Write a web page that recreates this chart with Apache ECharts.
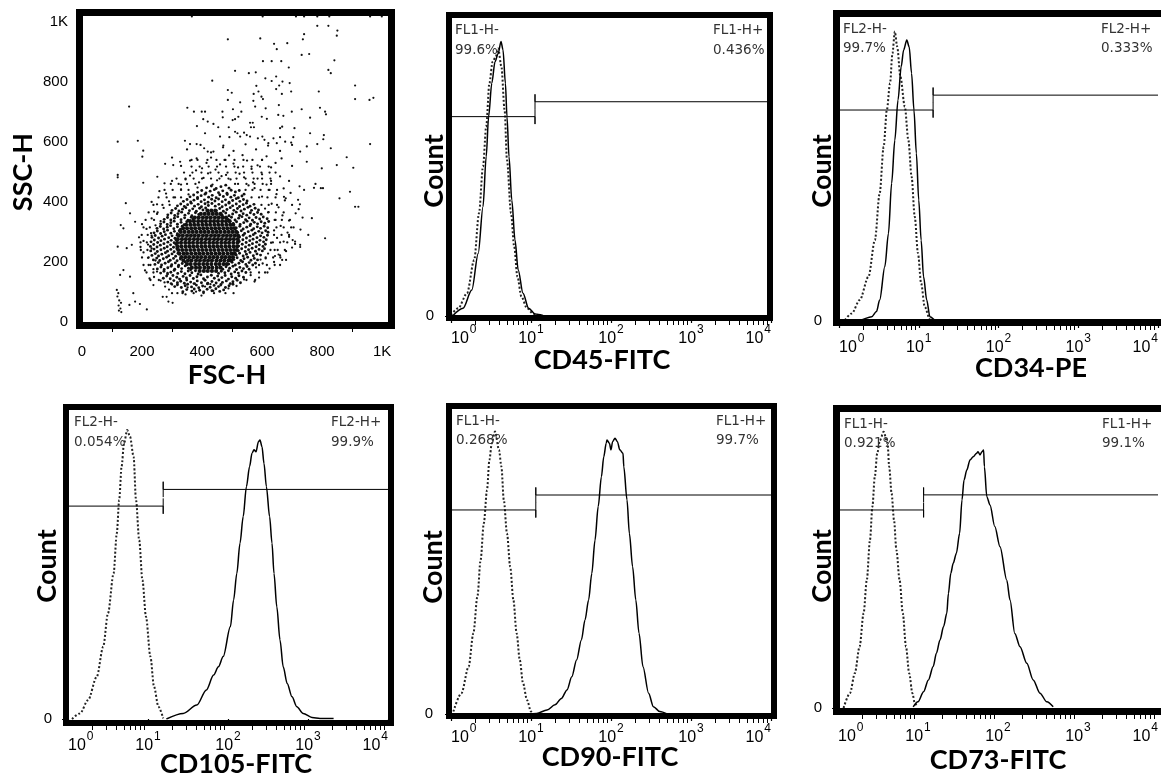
<!DOCTYPE html>
<html>
<head>
<meta charset="utf-8">
<script src="https://cdn.jsdelivr.net/npm/echarts@6.0.0/dist/echarts.min.js"></script>
<style>
  html, body { margin: 0; padding: 0; background: #fff; }
  #chart { width: 1161px; height: 778px; }
</style>
</head>
<body>
<div id="chart"></div>
<script>
// ---- scatter FSC-H / SSC-H ----
const fscTicks = [0, 200, 400, 600, 800, 1000];
const fscMinor = [100, 300, 500, 700, 900];
const sscTicks = [0, 200, 400, 600, 800, 1000];

// sparse events (upper tail, edges)
const sparsePts = [
  [366,1018],[602,1018],[713,1018],[740,1018],[784,1018],[824,1018],[960,1018],[999,1018],
  [784,987],[821,987],[851,971],[849,954],[740,959],[736,942],[486,942],[594,945],[640,927],[649,909],[684,929],
  [732,890],[757,893],[841,872],[603,869],[632,869],[664,869],[689,848],[821,840],[829,829],[510,837],[556,829],
  [579,832],[611,812],[632,803],[647,818],[657,788],[668,801],[692,796],[434,804],[910,788],[581,787],[486,773],
  [499,764],[572,760],[588,768],[598,751],[603,743],[647,776],[666,760],[697,768],[789,768],[910,743],[958,740],
  [971,747],[157,718],[527,732],[486,740],[571,737],[577,718],[656,723],[351,714],[373,701],[399,701],[410,701],
  [468,701],[503,709],[531,701],[612,712],[654,690],[671,687],[699,701],[732,709],[793,714],[810,701],[813,692],
  [760,681],[383,653],[404,676],[419,668],[438,660],[454,649],[469,682],[489,649],[502,673],[510,676],[521,684],
  [560,664],[569,664],[563,649],[573,649],[599,684],[616,677],[660,646],[667,651],[708,646],[760,629],[806,623],
  [410,629],[460,618],[471,588],[491,616],[510,634],[518,629],[527,618],[540,631],[549,623],[560,618],[586,612],
  [601,618],[608,607],[621,596],[638,612],[649,596],[660,616],[677,601],[697,598],[704,616],[727,568],[749,585],
  [784,593],[804,609],[829,579],[882,549],[960,593],[119,601],[186,604],[204,571],[201,551],[343,604],[360,593],
  [382,593],[407,579],[419,568],[438,568],[277,527],[304,523],[327,534],[360,538],[382,545],[749,534],[799,512],
  [849,523],[119,490],[119,482],[204,464],[251,484],[146,396],[160,362],[177,334],[129,323],[138,312],[119,251],
  [149,246],[166,257],[138,173],[127,157],[160,151],[238,123],[277,118],[116,107],[121,96],[118,85],[124,72],
  [130,64],[122,55],[128,45],[123,38],[131,33],[171,96],[177,68],[158,57],[193,60],[216,42],[269,84],[282,84],
  [288,68],[302,64],[904,514],[893,434],[858,412],[910,384],[921,384],[810,279],[766,346],[754,290],[727,257],
  [727,250],[702,273],[710,268],[796,446],[803,446],[773,447],[778,460],[740,440],[725,452],[720,407],[726,392],
  [673,417],[679,412],[667,207],[680,207],[643,220],[655,225]
];
// outer halo of the main population
const haloPts = [
  [290,108],[318,96],[352,115],[380,101],[410,118],[438,104],[462,122],[488,112],[300,125],[345,92],[398,88],
  [428,126],[515,120],[372,128],[240,150],[262,138],[285,164],[540,142],[562,156],[590,148],[610,165],[250,168],
  [225,145],[275,132],[575,135],[222,190],[238,176],[245,205],[580,182],[602,195],[625,178],[640,200],[210,172],
  [660,190],[595,208],[205,232],[220,214],[232,245],[620,228],[642,240],[660,222],[680,236],[195,250],[700,248],
  [612,212],[205,270],[220,258],[232,288],[630,264],[650,280],[672,268],[690,284],[710,260],[190,282],[215,310],
  [230,296],[245,322],[640,305],[662,320],[685,298],[705,315],[728,308],[200,326],[232,345],[250,360],[262,336],
  [645,340],[668,355],[690,338],[712,362],[735,348],[240,368],[622,366],[250,392],[272,380],[290,402],[610,378],
  [632,394],[655,382],[676,405],[700,390],[722,376],[232,400],[280,428],[305,415],[330,442],[355,425],[600,418],
  [625,440],[648,426],[672,445],[695,430],[258,436],[385,448],[575,446],[300,470],[330,458],[360,488],[390,465],
  [420,495],[450,472],[480,490],[510,460],[540,482],[570,465],[600,492],[630,470],[660,485],[275,462],[345,475],
  [405,480],[435,458],[465,486],[495,475],[525,494],[555,455],[585,478],[615,458],[645,498],[690,470],[330,520],
  [365,540],[400,512],[430,548],[460,525],[490,555],[520,515],[550,538],[585,522],[615,552],[645,530],[380,505],
  [415,530],[445,508],[475,540],[505,528],[535,556],[565,510],[600,540],[630,515],[665,545],[700,520],[300,548],
  [350,575],[395,590],[430,565],[470,582],[505,570],[545,592],[580,575],[620,588],[660,570],[700,590]
];
// medium-density band around the dense zone: [SSC, FSC values]
const outerRows = [
  [96, [300, 335, 372, 405, 440, 478, 505]],
  [140, [228, 256, 548, 577]],
  [165, [215, 238, 562, 590, 618]],
  [190, [205, 228, 590, 616, 642]],
  [215, [200, 222, 612, 637, 661]],
  [240, [196, 218, 628, 652, 676]],
  [265, [195, 216, 636, 660, 684]],
  [290, [199, 219, 640, 665, 690]],
  [315, [205, 226, 648, 672, 697]],
  [340, [212, 240, 642, 666, 693]],
  [365, [222, 252, 620, 646, 672]],
  [390, [238, 268, 292, 598, 622, 650]],
  [415, [255, 282, 310, 330, 565, 590, 618, 645]],
  [440, [275, 302, 330, 355, 545, 568, 595, 622, 650]],
  [460, [296, 322, 350, 378, 520, 548, 575, 602, 630]],
  [478, [315, 345, 372, 400, 430, 458, 488, 515, 545, 572, 600, 628]],
  [498, [340, 368, 398, 428, 455, 485, 512, 540, 568, 598, 625]],
  [518, [365, 392, 422, 450, 480, 508, 537, 565, 593, 622]],
  [540, [385, 418, 448, 478, 508, 538, 568, 600]]
];
// dense zone around the core
const innerPts = [
  [336,101],[349,108],[366,103],[374,110],[392,106],[405,100],[417,109],[433,104],[446,111],[459,102],[472,107],
  [309,118],[318,124],[331,115],[344,121],[352,126],[365,117],[381,123],[389,114],[402,120],[418,127],[427,116],
  [440,122],[455,118],[463,125],[478,115],[490,121],[503,126],
  [286,133],[297,128],[306,138],[318,131],[329,136],[341,129],[349,140],[362,133],[375,128],[384,137],[398,131],
  [410,139],[419,129],[433,135],[447,130],[456,140],[468,132],[481,137],[494,128],[503,134],[517,139],[528,131],
  [271,146],[282,153],[294,144],[303,155],[316,149],[325,143],[337,152],[348,147],[360,155],[371,145],[383,151],
  [396,157],[405,144],[418,150],[431,156],[441,146],[452,153],[466,148],[477,155],[488,143],[499,151],[512,146],
  [523,154],[538,149],
  [262,163],[273,169],[285,160],[296,166],[307,172],[319,162],[331,168],[343,161],[354,170],[366,164],[378,171],
  [387,160],[455,162],[464,169],[476,164],[488,171],[497,160],[509,167],[521,163],[533,170],[546,165],
  [251,177],[263,183],[274,175],[286,181],[297,186],[309,176],[321,184],[332,178],[344,187],[355,179],[362,174],
  [469,176],[480,184],[492,179],[503,186],[515,175],[526,182],[538,178],[550,185],[557,176],
  [243,192],[254,198],[265,190],[277,196],[288,201],[299,191],[311,197],[322,189],[334,195],[344,200],[489,193],
  [500,199],[511,190],[523,196],[535,201],[546,192],[557,198],[569,190],[578,196],
  [238,207],[249,213],[259,205],[271,211],[282,216],[294,206],[305,212],[317,204],[328,210],[506,208],[517,214],
  [529,205],[540,211],[552,216],[563,206],[574,212],[585,207],
  [233,222],[244,228],[255,220],[266,226],[278,231],[289,221],[300,227],[312,219],[320,229],[514,223],[525,229],
  [537,220],[548,226],[560,232],[571,221],[583,227],[595,223],
  [229,237],[240,243],[251,235],[263,241],[274,246],[285,236],[296,242],[307,234],[316,244],[521,238],[532,244],
  [544,235],[555,241],[567,246],[578,236],[590,242],[601,237],[608,244],
  [228,252],[239,258],[250,250],[261,256],[273,261],[284,251],[295,257],[305,249],[313,259],[522,253],[534,259],
  [545,250],[557,256],[568,261],[580,251],[591,257],[603,252],[611,259],
  [230,267],[241,273],[252,265],[263,271],[275,276],[286,266],[297,272],[307,264],[313,274],[524,268],[536,274],
  [547,265],[559,271],[570,276],[582,266],[593,272],[605,267],[614,274],
  [233,282],[244,288],[255,280],[267,286],[278,291],[289,281],[300,287],[310,279],[317,289],[525,283],[537,289],
  [548,280],[560,286],[571,291],[583,281],[595,287],[606,282],[618,289],
  [240,297],[251,303],[262,295],[274,301],[285,306],[296,296],[308,302],[318,294],[324,304],[519,298],[531,304],
  [542,295],[554,301],[566,306],[577,296],[589,302],[600,297],[612,304],[620,299],
  [250,312],[261,318],[272,310],[284,316],[295,321],[306,311],[318,317],[328,309],[334,319],[514,313],[526,319],
  [537,310],[549,316],[560,321],[572,311],[584,317],[595,312],[607,319],[619,314],
  [262,327],[273,333],[284,325],[296,331],[307,336],[318,326],[330,332],[340,324],[349,334],[504,328],[515,334],
  [527,325],[539,331],[550,336],[562,326],[574,332],[585,327],[597,334],[609,329],[622,335],
  [274,342],[285,348],[296,340],[308,346],[319,351],[330,341],[342,347],[353,339],[364,349],[370,343],[487,342],
  [498,349],[510,340],[522,346],[533,351],[545,341],[557,347],[568,339],[580,348],[592,343],[604,350],[617,344],
  [286,357],[297,363],[309,355],[320,361],[332,366],[343,356],[355,362],[366,354],[378,364],[389,358],[467,356],
  [479,363],[490,354],[502,360],[514,366],[525,355],[537,361],[549,356],[561,364],[573,358],[585,365],[597,359],
  [300,372],[312,378],[323,370],[335,376],[346,381],[358,371],[369,377],[381,369],[392,379],[403,373],[412,380],
  [448,371],[459,378],[471,369],[483,375],[494,381],[506,372],[518,378],[530,370],[541,376],[553,382],[565,372],
  [577,379],[588,373],
  [318,387],[329,393],[341,385],[352,391],[364,396],[375,386],[387,392],[398,384],[410,394],[421,388],[433,395],
  [444,386],[456,392],[467,384],[479,390],[490,396],[502,387],[514,393],[525,385],[537,391],[548,396],[560,386],
  [573,392],
  [338,402],[350,408],[362,400],[373,406],[385,411],[397,401],[408,407],[420,399],[432,409],[443,403],[455,410],
  [467,401],[478,407],[490,399],[502,405],[514,411],[526,402],[538,408],[550,403],
  [360,417],[372,423],[385,415],[397,421],[410,426],[422,416],[434,422],[447,414],[459,424],[471,418],[484,425],
  [496,416],[508,422],[521,414],[533,420],[540,426],
  [385,432],[399,438],[413,430],[427,436],[441,441],[455,431],[469,437],[483,429],[497,439],[511,433],[524,438],
  [415,447],[431,453],[447,445],[463,451],[479,456],[490,446]
];
// saturated core: [SSC, FSC values]
const coreRows = [
  [170, [392, 406, 419, 433, 447]],
  [181, [366, 380, 393, 408, 421, 434, 449, 462]],
  [193, [350, 362, 377, 390, 404, 417, 431, 446, 458, 472, 483]],
  [205, [338, 353, 365, 380, 393, 407, 420, 433, 448, 461, 474, 488, 497]],
  [216, [331, 344, 357, 371, 384, 397, 411, 425, 438, 451, 466, 478, 491, 503]],
  [228, [324, 338, 350, 364, 378, 391, 404, 418, 431, 445, 458, 471, 485, 498, 509]],
  [240, [321, 334, 347, 361, 374, 388, 401, 414, 428, 441, 455, 468, 481, 494, 507, 516]],
  [252, [318, 331, 345, 358, 371, 384, 398, 411, 425, 438, 451, 464, 478, 491, 505, 517]],
  [264, [317, 330, 344, 357, 370, 384, 397, 410, 424, 437, 450, 464, 477, 490, 504, 518]],
  [276, [319, 333, 346, 359, 373, 386, 399, 413, 426, 440, 453, 466, 480, 493, 506, 519]],
  [288, [323, 336, 350, 363, 376, 389, 403, 416, 430, 443, 456, 470, 483, 496, 509, 520]],
  [300, [329, 342, 356, 369, 382, 396, 409, 422, 436, 449, 462, 476, 489, 502, 514]],
  [312, [337, 350, 364, 377, 391, 404, 417, 431, 444, 457, 471, 484, 497, 509]],
  [324, [347, 361, 374, 387, 401, 414, 427, 441, 454, 467, 481, 494, 504]],
  [336, [360, 373, 387, 400, 413, 427, 440, 453, 467, 480, 492]],
  [348, [376, 389, 403, 416, 429, 443, 456, 469, 480]],
  [360, [396, 409, 422, 436, 449, 462]],
  [371, [418, 431, 444]]
];

// ---- histograms: [log10 intensity, % of max count] ----
const decades = [0, 1, 2, 3, 4];
const minorSteps = [2, 3, 4, 5, 6, 7, 8, 9];

const cd45Iso = [[0.0,0.3],[0.09,2.6],[0.20,7.6],[0.29,18.8],[0.35,34.5],[0.40,50.1],[0.44,63.5],[0.48,78.1],[0.52,85.3],[0.56,87],[0.59,89.8],[0.63,83.7],[0.67,69.1],[0.70,52.3],[0.75,34.5],[0.79,23.3],[0.83,13.2],[0.88,6.5],[0.95,2.6],[1.03,0.7],[1.11,0.2]];
const cd45Stain = [[0.03,0.3],[0.15,2.6],[0.26,8.7],[0.34,21],[0.40,36.7],[0.44,53.5],[0.47,66.9],[0.51,78.1],[0.55,85.3],[0.59,88.1],[0.625,92.1],[0.65,89.3],[0.68,78.1],[0.70,66.9],[0.725,53.5],[0.76,38.9],[0.80,25.5],[0.84,15.4],[0.90,7.6],[0.97,2.6],[1.05,0.7],[1.15,0.2]];
const cd45Gate = [1.05, 66.9, 71.9];

const cd34Iso = [[0.075,0.3],[0.16,2.5],[0.26,6.9],[0.37,14.6],[0.45,26.6],[0.51,42],[0.56,57.3],[0.60,69.4],[0.64,78.2],[0.67,88],[0.70,95.2],[0.73,90.2],[0.77,80.4],[0.825,70.5],[0.87,59.5],[0.91,47.5],[0.95,34.3],[0.99,22.3],[1.03,12.4],[1.075,4.7],[1.14,0.5],[1.22,0]];
const cd34Stain = [[0.05,0],[0.26,0.3],[0.41,1.4],[0.47,3.1],[0.51,6.9],[0.575,17.9],[0.62,28.8],[0.66,45.3],[0.70,59.5],[0.74,72.7],[0.78,83.7],[0.81,89.1],[0.85,92.4],[0.88,90.2],[0.91,81.5],[0.94,69.4],[0.97,55.2],[1.00,39.8],[1.03,26.6],[1.06,14.6],[1.10,6.9],[1.14,1.4],[1.22,0],[1.28,0]];
const cd34Gate = [1.18, 69.4, 74.3];

const cd105Iso = [[0.05,0],[0.15,1.8],[0.25,6.1],[0.36,13.7],[0.44,23.4],[0.50,34.2],[0.57,47.1],[0.61,60.1],[0.64,70.9],[0.67,81.7],[0.70,89.2],[0.74,93.5],[0.775,91.4],[0.82,84.9],[0.85,70.9],[0.89,57.9],[0.93,45],[0.975,33.1],[1.03,20.2],[1.075,10.5],[1.13,4.0],[1.19,0.2]];
const cd105Stain = [[1.23,0],[1.44,1.8],[1.61,4.5],[1.73,9.4],[1.82,14.2],[1.88,16.9],[1.94,20.2],[2.03,29.9],[2.07,38.5],[2.11,47.1],[2.15,56.9],[2.19,65.5],[2.23,75.2],[2.27,81.7],[2.30,86],[2.325,87.1],[2.35,86.5],[2.38,89.7],[2.40,90.3],[2.425,88.1],[2.45,82.7],[2.48,75.2],[2.52,65.5],[2.55,56.9],[2.575,47.1],[2.61,36.3],[2.65,25.6],[2.69,16.9],[2.74,11.5],[2.80,7.2],[2.86,4.0],[2.94,1.8],[3.05,0.5],[3.15,0.2],[3.32,0.2]];
const cd105Gate = [1.19, 68.9, 74.3];

const cd90Iso = [[0.03,0.8],[0.13,6.8],[0.22,15.5],[0.28,26.5],[0.33,38.5],[0.37,50.5],[0.41,62.5],[0.45,73.4],[0.48,83.3],[0.51,88.8],[0.55,92.6],[0.60,86.6],[0.63,81.1],[0.66,70.2],[0.70,59.2],[0.74,48.3],[0.78,37.4],[0.82,26.5],[0.86,17.7],[0.90,10.1],[0.95,4.6],[1.00,0.8],[1.03,0]];
const cd90Stain = [[0.95,0],[1.07,0.2],[1.20,1.3],[1.30,3.0],[1.38,5.1],[1.45,7.9],[1.51,12.2],[1.57,17.7],[1.63,24.3],[1.675,30.8],[1.72,37.4],[1.76,46.1],[1.80,57],[1.84,68],[1.88,77.8],[1.91,84.4],[1.94,88.8],[1.95,89.8],[1.98,88.8],[2.00,86.6],[2.02,89.3],[2.05,90.4],[2.08,89.3],[2.11,86.6],[2.15,85.5],[2.16,81.1],[2.20,70.2],[2.23,59.2],[2.27,48.3],[2.31,37.4],[2.35,26.5],[2.40,15.5],[2.47,6.8],[2.53,2.4],[2.61,0.8],[2.70,0]];
const cd90Gate = [1.06, 66.9, 71.8];

const cd73Iso = [[0.07,0],[0.15,5.0],[0.21,11.7],[0.27,20.7],[0.32,32],[0.36,43.2],[0.40,56.8],[0.43,68],[0.46,78.1],[0.49,86],[0.525,90.5],[0.57,93.3],[0.62,89.4],[0.64,81.5],[0.67,72.5],[0.70,63.5],[0.73,53.4],[0.77,43.2],[0.81,32],[0.85,20.7],[0.89,11.7],[0.93,5.0],[0.96,1.6],[0.99,0.4]];
const cd73Stain = [[0.94,0.4],[1.00,2.1],[1.07,5.5],[1.13,9.5],[1.19,14],[1.23,18.5],[1.275,23],[1.32,27.5],[1.36,32],[1.38,38.7],[1.41,45.5],[1.44,48.9],[1.48,52.3],[1.52,59],[1.55,70.3],[1.575,77],[1.61,80.4],[1.65,83.8],[1.69,84.9],[1.73,86],[1.75,86.6],[1.775,85.5],[1.80,86.6],[1.82,87.2],[1.83,81.5],[1.86,71.4],[1.90,68.6],[1.96,61.3],[2.025,54.5],[2.11,43.2],[2.15,36.5],[2.21,25.2],[2.275,20.7],[2.36,15.1],[2.44,9.5],[2.525,5.0],[2.61,2.1],[2.69,0.4]];
const cd73Gate = [1.07, 66.9, 72];

// layout of each histogram panel (pixels)
const panels = [
  { name: 'CD45-FITC', iso: cd45Iso, stain: cd45Stain, gate: cd45Gate,
    neg: ['FL1-H-', '99.6%'], pos: ['FL1-H+', '0.436%'],
    grid: [451, 18, 320, 298], frame: [452, 18, 767, 315, 6], xOff: 5, yOff: 5, labM: 3, yLabM: 12,
    negXY: [455, 30, 50], posX: 713, countXY: [434, 171], nameXY: [602, 360] },
  { name: 'CD34-PE', iso: cd34Iso, stain: cd34Stain, gate: cd34Gate,
    neg: ['FL2-H-', '99.7%'], pos: ['FL2-H+', '0.333%'],
    grid: [839, 17, 320, 304], frame: [840, 17, 1168, 319, 7], xOff: 5, yOff: 6, labM: 7, yLabM: 11,
    negXY: [843, 29, 48], posX: 1101, countXY: [822, 171], nameXY: [1031, 368] },
  { name: 'CD105-FITC', iso: cd105Iso, stain: cd105Stain, gate: cd105Gate,
    neg: ['FL2-H-', '0.054%'], pos: ['FL2-H+', '99.9%'],
    grid: [68, 410, 320, 309], frame: [69, 410, 388, 720, 6], xOff: 7, yOff: 5, labM: 5, yLabM: 11,
    negXY: [74, 422, 442], posX: 331, countXY: [47, 566], nameXY: [236, 764] },
  { name: 'CD90-FITC', iso: cd90Iso, stain: cd90Stain, gate: cd90Gate,
    neg: ['FL1-H-', '0.268%'], pos: ['FL1-H+', '99.7%'],
    grid: [451, 409, 320, 305], frame: [452, 409, 771, 713, 6], xOff: 5, yOff: 5, labM: 4, yLabM: 13,
    negXY: [456, 421, 440], posX: 716, countXY: [433, 567], nameXY: [610, 757] },
  { name: 'CD73-FITC', iso: cd73Iso, stain: cd73Stain, gate: cd73Gate,
    neg: ['FL1-H-', '0.921%'], pos: ['FL1-H+', '99.1%'],
    grid: [838, 412, 320, 296], frame: [840, 412, 1168, 708, 7], xOff: 7, yOff: 5, labM: 7, yLabM: 11,
    negXY: [844, 424, 443], posX: 1102, countXY: [822, 566], nameXY: [998, 760] }
];

const grids = [];
const xAxes = [];
const yAxes = [];
const series = [];
const graphics = [];

const tickFont = 'Liberation Sans';
const nameFont = 'Lato';

function rowsToPoints(rows) {
  const pts = [];
  rows.forEach(([ssc, list]) => list.forEach(fsc => pts.push([fsc, ssc])));
  return pts;
}
function addFrame(f) {
  const [l, t, r, b, w] = f;
  graphics.push({
    type: 'rect', z: 100, silent: true,
    shape: { x: l - w / 2, y: t - w / 2, width: r - l + w, height: b - t + w },
    style: { fill: 'none', stroke: '#000', lineWidth: w }
  });
}
function addName(txt, x, y, rotate) {
  graphics.push({
    type: 'text', z: 100, silent: true, x: x, y: y, rotation: rotate ? Math.PI / 2 : 0,
    style: { text: txt, fill: '#000', font: 'bold 27px ' + nameFont, align: 'center', verticalAlign: 'middle' }
  });
}
function addSmall(txt, x, y) {
  graphics.push({
    type: 'text', z: 100, silent: true, x: x, y: y,
    style: { text: txt, fill: '#333', font: '13.5px "DejaVu Sans"', align: 'left', verticalAlign: 'middle' }
  });
}

// ---- panel 1: scatter ----
grids.push({ left: 82, top: 15, width: 307, height: 307 });
xAxes.push({
  type: 'value', gridIndex: 0, min: 0, max: 1023, position: 'bottom', offset: 7,
  axisLine: { show: true, lineStyle: { color: '#000', width: 1 } },
  axisTick: { show: true, length: 6, customValues: fscTicks, lineStyle: { color: '#000' } },
  axisLabel: { customValues: fscTicks, margin: 15, fontSize: 15, color: '#000', fontFamily: tickFont,
    formatter: v => (v === 1000 ? '1K' : String(v)) },
  splitLine: { show: false }
});
xAxes.push({
  type: 'value', gridIndex: 0, min: 0, max: 1023, position: 'bottom', offset: 7,
  axisLine: { show: false }, axisLabel: { show: false }, splitLine: { show: false },
  axisTick: { show: true, length: 3, customValues: fscMinor, lineStyle: { color: '#000' } }
});
yAxes.push({
  type: 'value', gridIndex: 0, min: 0, max: 1023, position: 'left', offset: 6,
  axisLine: { show: false },
  axisTick: { show: true, length: 5, customValues: sscTicks, lineStyle: { color: '#000' } },
  axisLabel: { customValues: sscTicks, margin: 8, fontSize: 15, color: '#000', fontFamily: tickFont,
    formatter: v => (v === 1000 ? '1K' : String(v)) },
  splitLine: { show: false }
});
const dotSets = [
  [sparsePts, 2.2], [haloPts, 2.3], [rowsToPoints(outerRows), 2.3],
  [innerPts, 2.9], [rowsToPoints(coreRows), 4.2]
];
dotSets.forEach(([pts, size]) => {
  series.push({
    type: 'scatter', xAxisIndex: 0, yAxisIndex: 0, data: pts, symbol: 'circle', symbolSize: size,
    itemStyle: { color: '#111', opacity: 1 }, silent: true, animation: false, large: false
  });
});
addFrame([83, 16, 388, 322, 7]);
addName('SSC-H', 23, 172, true);
addName('FSC-H', 227, 375, false);

// ---- panels 2..6: histograms ----
const minorTicks = [];
[0, 1, 2, 3].forEach(d => minorSteps.forEach(k => minorTicks.push(d + Math.log10(k))));

panels.forEach((p, i) => {
  const gi = i + 1;
  grids.push({ left: p.grid[0], top: p.grid[1], width: p.grid[2], height: p.grid[3] });
  const xi = xAxes.length;
  xAxes.push({
    type: 'value', gridIndex: gi, min: 0, max: 4, position: 'bottom', offset: p.xOff,
    axisLine: { show: false }, splitLine: { show: false },
    axisTick: { show: true, length: 7, customValues: decades, lineStyle: { color: '#000', width: 1.2 } },
    axisLabel: {
      customValues: decades, margin: p.labM, color: '#000', alignMinLabel: 'left', alignMaxLabel: 'right',
      formatter: v => '{b|10}{s|' + v + '}',
      rich: {
        b: { fontSize: 16, fontFamily: tickFont, color: '#000', padding: [7, 0, 0, 0] },
        s: { fontSize: 12, fontFamily: tickFont, color: '#000', padding: [0, 0, 11, 1] }
      }
    }
  });
  xAxes.push({
    type: 'value', gridIndex: gi, min: 0, max: 4, position: 'bottom', offset: p.xOff,
    axisLine: { show: false }, axisLabel: { show: false }, splitLine: { show: false },
    axisTick: { show: true, length: 4, customValues: minorTicks, lineStyle: { color: '#000' } }
  });
  yAxes.push({
    type: 'value', gridIndex: gi, min: 0, max: 100, position: 'left', offset: p.yOff,
    axisLine: { show: false }, splitLine: { show: false },
    axisTick: { show: true, length: 6, customValues: [0], lineStyle: { color: '#000' } },
    axisLabel: { customValues: [0], margin: p.yLabM, fontSize: 15, color: '#000', fontFamily: tickFont }
  });
  const yi = gi;
  // isotype control (dotted) and stained sample (solid)
  series.push({
    type: 'line', xAxisIndex: xi, yAxisIndex: yi, data: p.iso, symbol: 'none', smooth: 0.3,
    smoothMonotone: 'x', silent: true, animation: false,
    lineStyle: { color: '#222', width: 2, type: [2, 2] }
  });
  series.push({
    type: 'line', xAxisIndex: xi, yAxisIndex: yi, data: p.stain, symbol: 'none', smooth: 0.3,
    smoothMonotone: 'x', silent: true, animation: false,
    lineStyle: { color: '#000', width: 1.5 }
  });
  // gate markers
  const [gx, yL, yR] = p.gate;
  series.push({
    type: 'line', xAxisIndex: xi, yAxisIndex: yi, symbol: 'none', silent: true, animation: false,
    data: [[0, yL], [gx, yL], [gx, yL - 2.5], [gx, yL + 2.5]],
    lineStyle: { color: '#000', width: 1 }
  });
  series.push({
    type: 'line', xAxisIndex: xi, yAxisIndex: yi, symbol: 'none', silent: true, animation: false,
    data: [[4, yR], [gx, yR], [gx, yR + 2.5], [gx, yR - 2.5]],
    lineStyle: { color: '#000', width: 1 }
  });
  addFrame(p.frame);
  addSmall(p.neg[0], p.negXY[0], p.negXY[1]);
  addSmall(p.neg[1], p.negXY[0], p.negXY[2]);
  addSmall(p.pos[0], p.posX, p.negXY[1]);
  addSmall(p.pos[1], p.posX, p.negXY[2]);
  addName('Count', p.countXY[0], p.countXY[1], true);
  addName(p.name, p.nameXY[0], p.nameXY[1], false);
});

const chart = echarts.init(document.getElementById('chart'));
chart.setOption({
  backgroundColor: '#fff',
  animation: false,
  grid: grids,
  xAxis: xAxes,
  yAxis: yAxes,
  series: series,
  graphic: { elements: graphics }
});
</script>
</body>
</html>
